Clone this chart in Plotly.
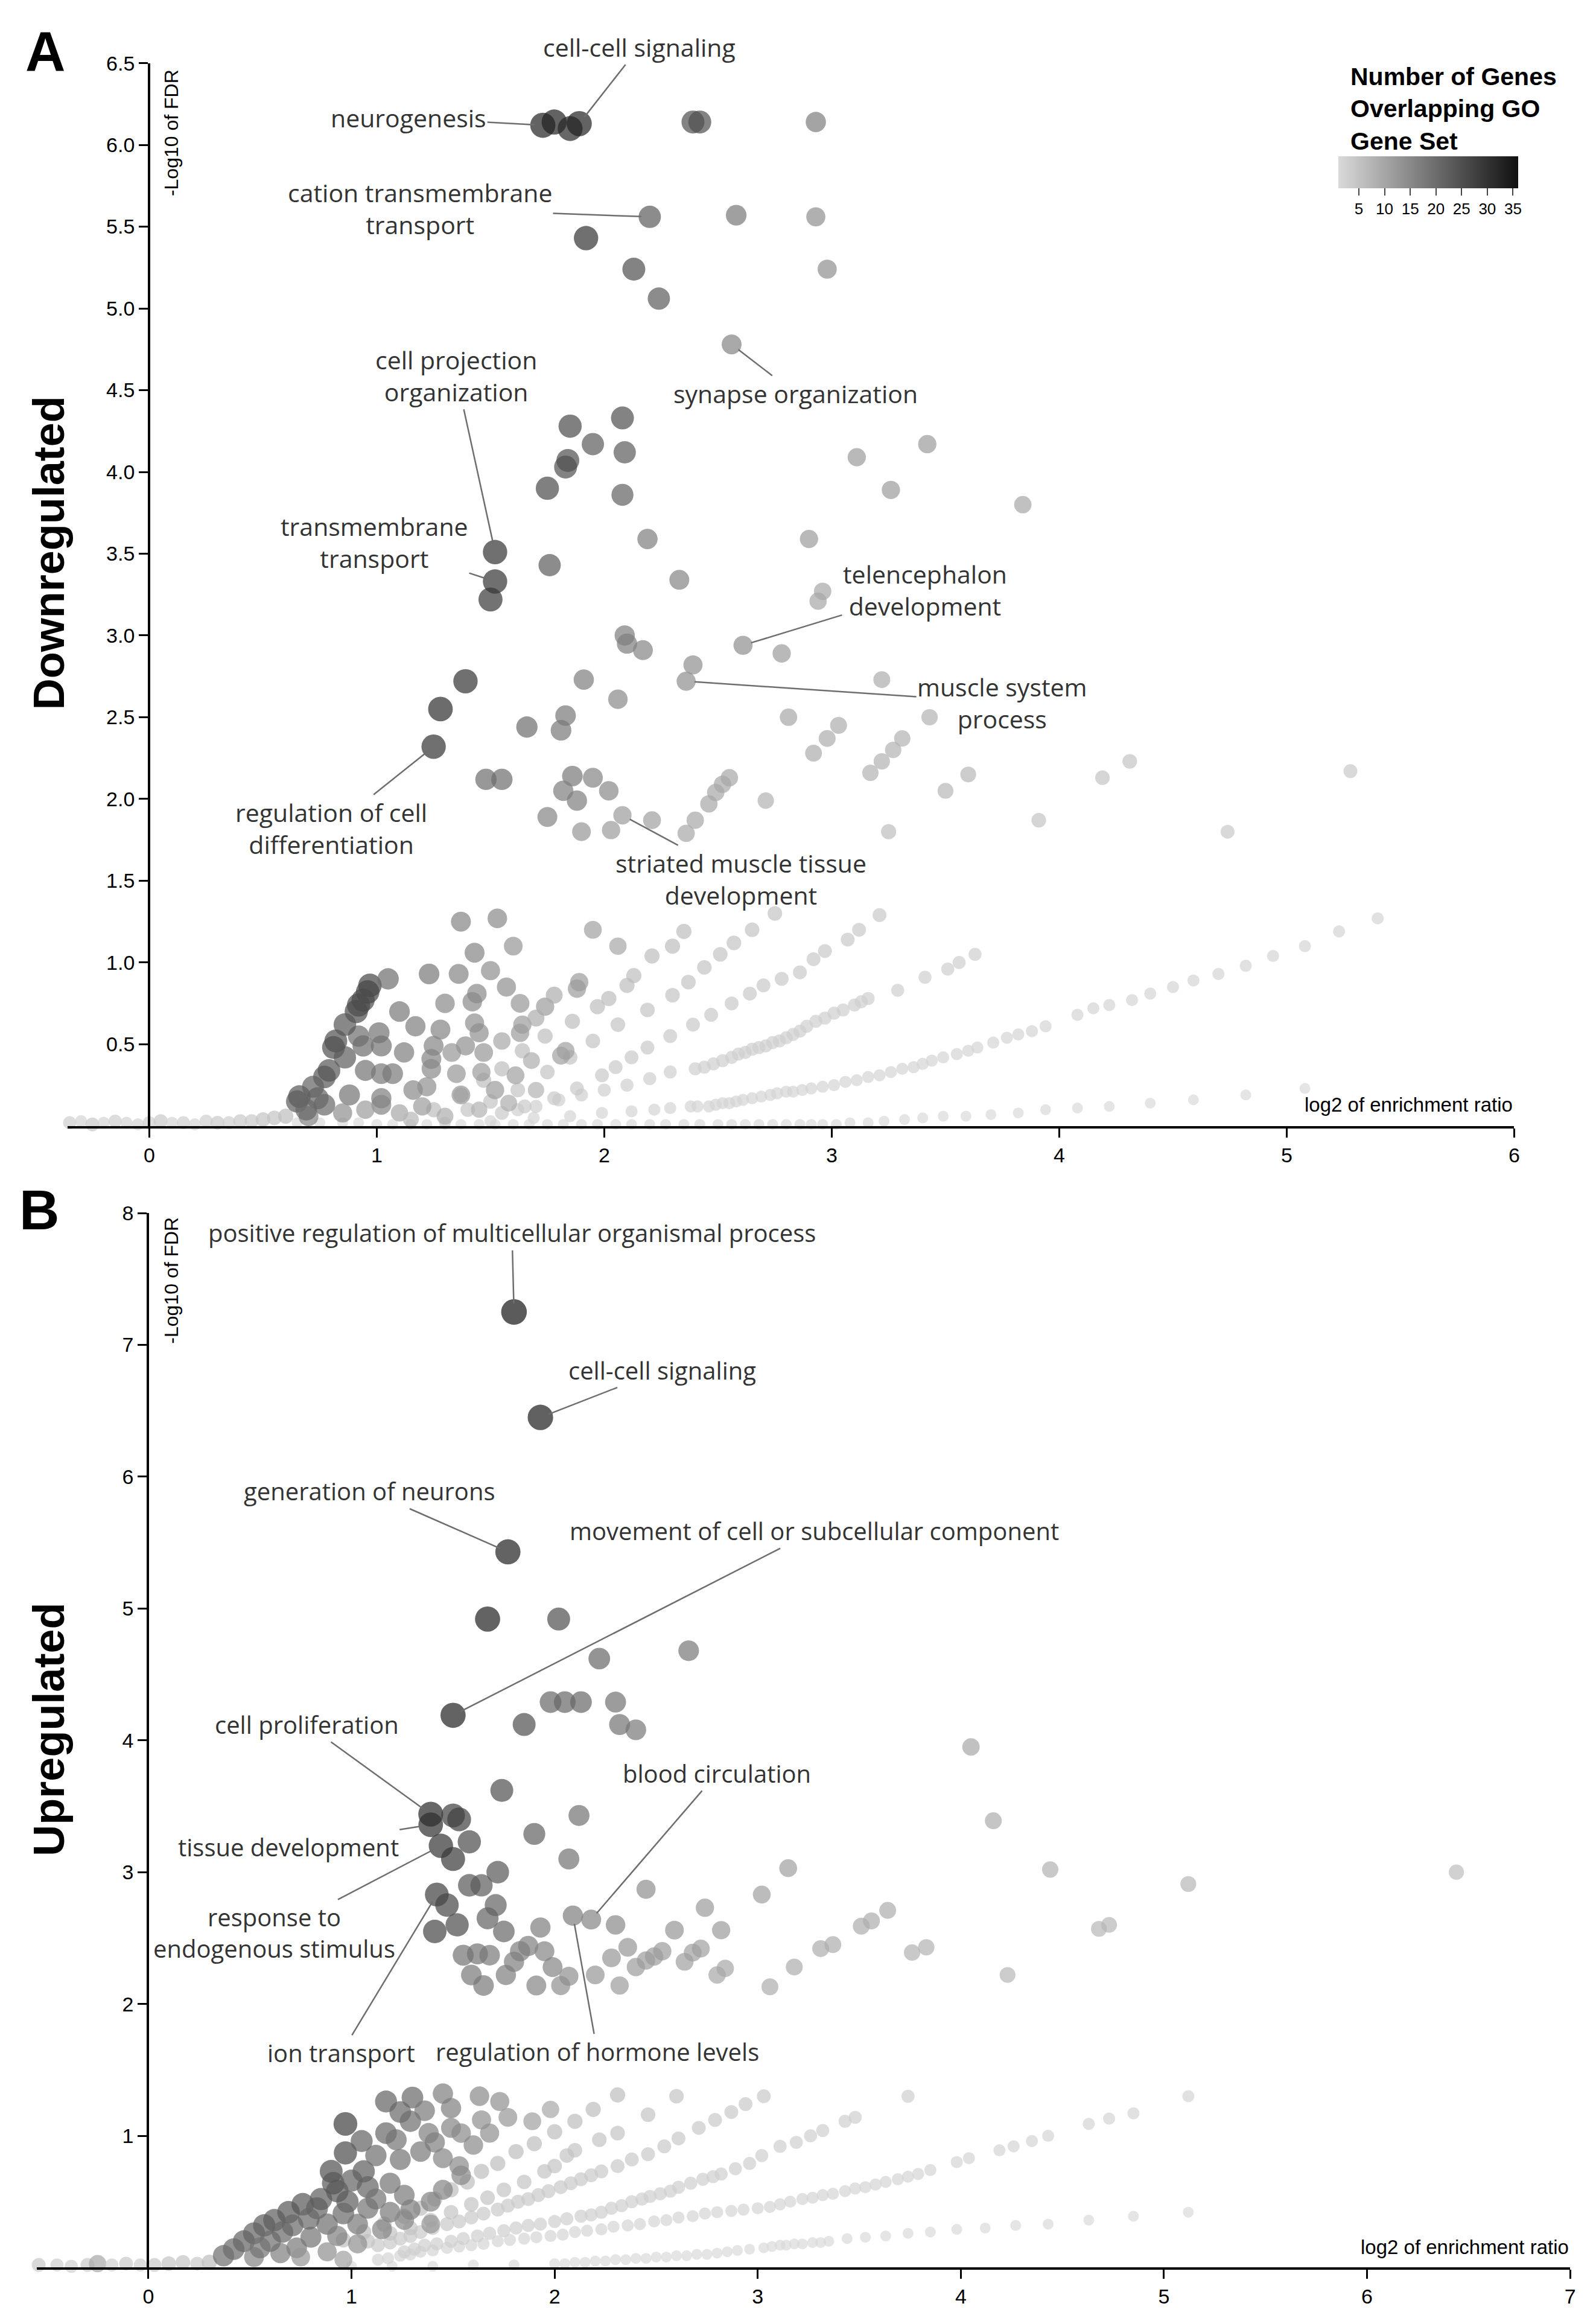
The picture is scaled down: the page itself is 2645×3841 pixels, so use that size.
import numpy as np
import plotly.graph_objects as go

# ------------------------------------------------------------------
# Panel A - downregulated genes
# x = log2 of enrichment ratio, y = -log10 FDR, n = overlapping genes
# ------------------------------------------------------------------

# sets with FDR ~ 1, piled on the x axis
down_axis_x = [-0.35, -0.30, -0.25, -0.20, -0.15, -0.10, -0.05, 0.00, 0.05, 0.10,
               0.15, 0.20, 0.25, 0.30, 0.35, 0.40, 0.45, 0.50, 0.55, 0.60,
               -0.33, -0.22, -0.12, 0.00, 0.12, 0.24, 0.36, 0.48, 0.60]
down_axis_y = [0.02, 0.03, 0.01, 0.02, 0.03, 0.02, 0.01, 0.02, 0.03, 0.02,
               0.02, 0.01, 0.03, 0.02, 0.02, 0.03, 0.03, 0.04, 0.05, 0.06,
               -0.04, -0.04, -0.04, -0.04, -0.04, -0.04, -0.04, -0.04, -0.04]
down_axis_n = [3, 2, 4, 2, 3, 2, 2, 3, 4, 2,
               3, 2, 3, 4, 3, 4, 4, 5, 5, 6,
               2, 2, 2, 2, 2, 2, 2, 2, 2]

# one overlapping gene
down_n1_x = [1.00, 1.15, 1.30, 1.45, 1.60, 1.75, 1.90, 2.05, 2.20, 2.35, 2.50, 2.62, 2.74, 2.86, 2.96, 3.02,
             3.08, 3.16, 3.23, 3.32, 3.40, 3.49, 3.59, 3.70, 3.82, 3.94, 4.08, 4.22, 4.40, 4.59, 4.82, 5.08,
             0.65, 0.75, 0.85, 0.92, 1.07, 1.22, 1.37, 1.52, 1.67, 1.82, 1.97, 2.12, 2.27, 2.42, 2.56, 2.68, 2.80, 2.91]
down_n1_y = [0.01, 0.01, 0.01, 0.01, 0.01, 0.01, 0.01, 0.01, 0.01, 0.01, 0.01, 0.01, 0.01, 0.01, 0.01, 0.01,
             0.02, 0.02, 0.03, 0.04, 0.05, 0.06, 0.06, 0.07, 0.08, 0.10, 0.11, 0.12, 0.14, 0.16, 0.19, 0.23,
             0.02, 0.02, 0.02, 0.02, 0.01, 0.01, 0.01, 0.01, 0.01, 0.01, 0.01, 0.01, 0.01, 0.01, 0.01, 0.01, 0.01, 0.01]

# two overlapping genes
down_n2_x = [1.30, 1.50, 1.69, 1.85, 1.99, 2.12, 2.22, 2.29, 2.38, 2.46, 2.52, 2.58, 2.65, 2.73,
             2.80, 2.87, 2.96, 3.06, 3.16, 3.26, 3.36, 3.44, 3.55, 3.64, 3.71, 3.77, 3.82, 3.88,
             3.94, 4.08, 4.15, 4.22, 4.32, 4.40, 4.50, 4.59, 4.70, 4.82, 4.94, 5.08, 5.23, 5.40,
             2.41, 2.49, 2.55, 2.61, 2.69, 2.76, 2.83, 2.91, 3.01, 3.11, 3.21, 3.31, 3.40, 3.49, 3.60]
down_n2_y = [0.02, 0.03, 0.05, 0.06, 0.08, 0.09, 0.10, 0.11, 0.12, 0.12, 0.14, 0.15, 0.17, 0.19,
             0.21, 0.22, 0.24, 0.27, 0.30, 0.33, 0.36, 0.40, 0.44, 0.48, 0.51, 0.54, 0.56, 0.58,
             0.61, 0.68, 0.72, 0.74, 0.77, 0.81, 0.85, 0.89, 0.93, 0.98, 1.04, 1.10, 1.19, 1.27,
             0.12, 0.13, 0.14, 0.16, 0.18, 0.20, 0.21, 0.23, 0.25, 0.28, 0.31, 0.35, 0.38, 0.42, 0.46]

# three overlapping genes
down_n3_x = [1.62, 1.70, 1.80, 1.90, 2.00, 2.10, 2.20, 2.29, 2.40, 2.48, 2.56, 2.62, 2.68,
             2.74, 2.80, 2.86, 2.93, 3.01, 3.10, 3.16, 3.29, 3.41, 3.51, 3.56, 3.63,
             2.44, 2.52, 2.59, 2.65, 2.71, 2.77, 2.83, 2.89, 2.97, 3.05, 3.13]
down_n3_y = [0.10, 0.12, 0.16, 0.19, 0.22, 0.25, 0.29, 0.33, 0.35, 0.38, 0.42, 0.45, 0.48,
             0.51, 0.54, 0.58, 0.64, 0.69, 0.74, 0.78, 0.83, 0.91, 0.96, 1.00, 1.05,
             0.36, 0.40, 0.44, 0.47, 0.49, 0.52, 0.56, 0.61, 0.66, 0.71, 0.76]

# four overlapping genes
down_n4_x = [1.55, 1.65, 1.78, 1.88, 1.99, 2.05, 2.12, 2.19, 2.29, 2.39, 2.47,
             2.56, 2.64, 2.70, 2.78, 2.86, 2.92, 2.97, 3.07, 3.12, 3.21]
down_n4_y = [0.08, 0.12, 0.17, 0.23, 0.31, 0.36, 0.42, 0.48, 0.55, 0.62, 0.68,
             0.75, 0.81, 0.86, 0.90, 0.94, 1.02, 1.07, 1.14, 1.20, 1.29]

# five overlapping genes
down_n5_x = [1.40, 1.50, 1.62, 1.75, 1.85, 1.95, 2.06, 2.19, 2.30, 2.37, 2.44, 2.51, 2.57, 2.65, 2.75]
down_n5_y = [0.10, 0.15, 0.22, 0.33, 0.42, 0.52, 0.62, 0.71, 0.80, 0.88, 0.97, 1.05, 1.12, 1.20, 1.30]

# six overlapping genes
down_n6_x = [1.25, 1.37, 1.47, 1.55, 1.64, 1.74, 1.86, 1.97, 2.02, 2.10, 2.13, 2.21, 2.30, 2.35]
down_n6_y = [0.10, 0.19, 0.28, 0.35, 0.46, 0.55, 0.64, 0.73, 0.78, 0.86, 0.92, 1.04, 1.10, 1.19]

# remaining non-significant sets
down_low_x = [1.37, 1.53, 1.43, 1.23, 1.36, 1.95, 2.06, 1.89, 1.88, 1.57,
              1.74, 1.63, 1.64, 1.63, 1.44, 1.42, 1.43, 1.45, 1.39, 1.47,
              1.81, 1.83, 0.97, 0.96, 0.94, 0.92, 0.91, 0.82, 0.81, 0.79,
              0.77, 0.66, 0.65, 0.74, 0.77, 0.92, 0.94, 1.01, 1.02, 0.95,
              1.02, 1.07, 0.88, 1.02, 1.02, 1.17, 1.28, 1.25, 1.24, 1.24,
              1.16, 1.22, 1.35, 1.37, 1.46, 1.52, 1.61, 0.85, 0.95, 1.10,
              1.20, 1.30, 0.70, 1.45, 1.15, 1.55, 1.70, 1.78, 1.68, 1.58,
              1.70, 1.33, 1.12, 1.10, 1.05, 0.86, 0.86, 0.72, 0.69, 1.30,
              1.50, 1.60]
down_low_y = [1.25, 1.27, 1.06, 0.93, 0.93, 1.20, 1.10, 0.88, 0.84, 0.85,
              0.73, 0.75, 0.62, 0.57, 0.81, 0.76, 0.63, 0.57, 0.49, 0.45,
              0.43, 0.46, 0.86, 0.82, 0.77, 0.74, 0.70, 0.52, 0.48, 0.34,
              0.30, 0.18, 0.15, 0.17, 0.13, 0.55, 0.49, 0.57, 0.49, 0.34,
              0.32, 0.32, 0.19, 0.17, 0.13, 0.61, 0.59, 0.49, 0.41, 0.35,
              0.22, 0.24, 0.32, 0.19, 0.33, 0.22, 0.31, 0.08, 0.10, 0.08,
              0.12, 0.06, 0.06, 0.10, 0.04, 0.52, 0.66, 0.80, 0.40, 0.14,
              0.22, 0.45, 0.45, 0.70, 0.90, 0.62, 0.42, 0.24, 0.10, 0.75,
              0.95, 1.10]
down_low_n = [16, 15, 16, 18, 16, 11, 10, 12, 12, 14,
              12, 13, 12, 12, 15, 15, 14, 14, 14, 13,
              11, 11, 27, 27, 26, 26, 26, 25, 25, 24,
              24, 24, 23, 22, 21, 20, 20, 19, 19, 19,
              18, 18, 19, 17, 16, 17, 16, 16, 16, 15,
              15, 14, 13, 13, 12, 12, 11, 14, 12, 10,
              12, 9, 16, 8, 7, 10, 9, 9, 9, 9,
              8, 13, 17, 18, 20, 24, 23, 22, 21, 15,
              14, 13]

# significant sets (FDR < 0.05)
down_sig_x = [1.73, 1.78, 1.85, 1.89, 2.39, 2.42, 2.93, 2.20, 2.58, 2.93,
              1.92, 2.13, 2.24, 2.98, 2.56, 1.85, 2.08, 1.95, 2.09, 1.84,
              1.83, 1.75, 2.08, 3.11, 3.42, 3.26, 3.84, 1.52, 1.52, 1.50,
              1.76, 2.19, 2.33, 2.90, 2.94, 2.96, 2.61, 2.78, 2.09, 2.10,
              2.17, 2.39, 2.36, 1.91, 2.06, 1.39, 1.28, 1.25, 1.66, 1.83,
              1.81, 2.81, 3.03, 2.98, 2.92, 3.22, 3.43, 3.31, 3.27, 3.22,
              3.17, 3.60, 3.50, 4.31, 4.19, 5.28, 3.91, 3.25, 4.74, 1.48,
              1.55, 1.86, 1.95, 1.82, 2.02, 1.88, 1.75, 2.08, 2.21, 1.90,
              2.03, 2.36, 2.40, 2.46, 2.49, 2.52, 2.55, 2.71]
down_sig_y = [6.12, 6.14, 6.10, 6.13, 6.14, 6.14, 6.14, 5.56, 5.57, 5.56,
              5.43, 5.24, 5.06, 5.24, 4.78, 4.28, 4.33, 4.17, 4.12, 4.07,
              4.03, 3.90, 3.86, 4.09, 4.17, 3.89, 3.80, 3.51, 3.33, 3.22,
              3.43, 3.59, 3.34, 3.59, 3.21, 3.27, 2.94, 2.89, 3.00, 2.95,
              2.91, 2.82, 2.72, 2.73, 2.61, 2.72, 2.55, 2.32, 2.44, 2.51,
              2.42, 2.50, 2.45, 2.37, 2.28, 2.73, 2.50, 2.37, 2.30, 2.23,
              2.16, 2.15, 2.05, 2.23, 2.13, 2.17, 1.87, 1.80, 1.80, 2.12,
              2.12, 2.14, 2.13, 2.05, 2.05, 1.99, 1.89, 1.90, 1.87, 1.80,
              1.81, 1.79, 1.87, 1.97, 2.04, 2.09, 2.13, 1.99]
down_sig_n = [33, 33, 32, 33, 25, 25, 17, 23, 18, 14,
              30, 25, 23, 14, 16, 26, 25, 23, 23, 25,
              25, 26, 22, 12, 12, 12, 10, 30, 30, 29,
              23, 17, 16, 12, 10, 10, 14, 12, 17, 17,
              16, 14, 14, 17, 15, 30, 31, 30, 20, 18,
              18, 10, 9, 9, 9, 9, 8, 8, 8, 8,
              8, 7, 7, 5, 5, 4, 5, 6, 4, 20,
              20, 18, 16, 17, 15, 17, 16, 12, 11, 13,
              12, 10, 10, 10, 10, 10, 10, 8]

down_labels = ["cell-cell signaling", "neurogenesis", "cation transmembrane<br>transport",
               "cell projection<br>organization", "transmembrane<br>transport",
               "synapse organization", "telencephalon<br>development", "muscle system<br>process",
               "regulation of cell<br>differentiation", "striated muscle tissue<br>development"]
down_label_x = [1.89, 1.73, 2.20, 1.52, 1.52, 2.56, 2.61, 2.36, 1.25, 2.08]
down_label_y = [6.13, 6.12, 5.56, 3.51, 3.33, 4.78, 2.94, 2.72, 2.32, 1.90]

# ------------------------------------------------------------------
# Panel B - upregulated genes
# ------------------------------------------------------------------
up_axis_x = [-0.54, -0.45, -0.38, -0.30, -0.25, -0.18, -0.11, -0.04, 0.03, 0.10, 0.17,
             0.24, 0.30, -0.40, -0.20, 0.00, 0.15, 0.30, 0.45, 0.60, 0.75, 0.90]
up_axis_y = [0.02, 0.02, 0.01, 0.02, 0.03, 0.02, 0.03, 0.02, 0.02, 0.03, 0.04,
             0.03, 0.04, -0.04, -0.04, -0.04, -0.04, -0.04, -0.05, -0.05, -0.05, -0.04]
up_axis_n = [4, 3, 3, 4, 10, 3, 4, 3, 4, 5, 5,
             4, 6, 2, 2, 2, 2, 2, 2, 2, 2, 2]

up_n1_x = [1.00, 1.20, 1.40, 1.60, 1.80, 2.00, 2.10, 2.20, 2.30, 2.40, 2.50, 2.60, 2.70, 2.80, 2.90, 3.03,
           3.11, 3.18, 3.27, 3.35, 3.44, 3.53, 3.63, 3.74, 3.85, 3.98, 4.12, 4.27, 4.43, 4.63, 4.85, 5.12,
           2.05, 2.15, 2.25, 2.35, 2.45, 2.55, 2.65, 2.75, 2.85, 2.96, 3.07, 3.14, 3.22, 3.31]
up_n1_y = [0.01, 0.01, 0.01, 0.02, 0.02, 0.03, 0.04, 0.05, 0.06, 0.07, 0.08, 0.09, 0.10, 0.11, 0.13, 0.15,
           0.17, 0.18, 0.19, 0.20, 0.22, 0.23, 0.24, 0.26, 0.27, 0.29, 0.30, 0.32, 0.33, 0.36, 0.39, 0.42,
           0.03, 0.04, 0.05, 0.06, 0.07, 0.08, 0.09, 0.10, 0.12, 0.14, 0.16, 0.17, 0.18, 0.19]

up_n2_x = [1.13, 1.24, 1.34, 1.47, 1.59, 1.72, 1.85, 1.98, 2.10, 2.23, 2.36, 2.49, 2.61, 2.74,
           2.87, 3.00, 3.06, 3.11, 3.16, 3.22, 3.27, 3.32, 3.37, 3.43, 3.48, 3.53, 3.58, 3.63,
           3.69, 3.74, 3.79, 3.85, 3.98, 4.04, 4.19, 4.26, 4.35, 4.43, 4.63, 4.73, 4.85, 5.12,
           1.18, 1.29, 1.40, 1.53, 1.65, 1.78, 1.91, 2.04, 2.16, 2.29, 2.42, 2.55, 2.68, 2.80, 2.93]
up_n2_y = [0.06, 0.09, 0.12, 0.15, 0.17, 0.20, 0.22, 0.24, 0.27, 0.29, 0.32, 0.35, 0.38, 0.41,
           0.43, 0.45, 0.46, 0.48, 0.50, 0.52, 0.53, 0.55, 0.56, 0.58, 0.60, 0.61, 0.63, 0.65,
           0.67, 0.69, 0.71, 0.74, 0.80, 0.83, 0.89, 0.92, 0.96, 1.00, 1.09, 1.13, 1.17, 1.30,
           0.07, 0.10, 0.13, 0.16, 0.18, 0.21, 0.23, 0.25, 0.28, 0.31, 0.33, 0.36, 0.39, 0.42, 0.44]

up_n3_x = [1.26, 1.36, 1.49, 1.62, 1.75, 1.87, 2.00, 2.13, 2.23, 2.33, 2.43, 2.52,
           2.61, 2.73, 2.82, 2.96, 3.02, 3.11, 3.19, 3.26, 3.32, 3.43, 3.48, 3.74,
           1.31, 1.42, 1.55, 1.68, 1.81, 1.93, 2.06, 2.18, 2.28, 2.38, 2.47, 2.57, 2.67, 2.78, 2.89]
up_n3_y = [0.12, 0.17, 0.20, 0.24, 0.28, 0.32, 0.35, 0.39, 0.42, 0.47, 0.52, 0.56,
           0.61, 0.67, 0.71, 0.79, 0.85, 0.92, 0.95, 1.00, 1.04, 1.11, 1.14, 1.30,
           0.14, 0.18, 0.22, 0.26, 0.30, 0.33, 0.37, 0.40, 0.45, 0.50, 0.54, 0.58, 0.64, 0.69, 0.75]

up_n4_x = [1.13, 1.24, 1.34, 1.47, 1.59, 1.72, 1.82, 1.92, 2.03, 2.13, 2.23,
           2.31, 2.38, 2.46, 2.54, 2.61, 2.71, 2.79, 2.87, 2.94, 3.03,
           1.19, 1.29, 1.40, 1.53, 1.65, 1.77, 1.87, 1.97, 2.08, 2.18]
up_n4_y = [0.17, 0.22, 0.27, 0.33, 0.38, 0.44, 0.50, 0.55, 0.61, 0.67, 0.73,
           0.77, 0.82, 0.86, 0.92, 0.98, 1.06, 1.12, 1.18, 1.24, 1.30,
           0.19, 0.24, 0.30, 0.35, 0.41, 0.47, 0.52, 0.58, 0.64, 0.70]

up_n5_x = [1.08, 1.19, 1.29, 1.39, 1.49, 1.59, 1.67, 1.75, 1.85, 1.95, 2.00, 2.06, 2.10, 2.22, 2.31, 2.46, 2.60]
up_n5_y = [0.20, 0.26, 0.30, 0.36, 0.42, 0.48, 0.53, 0.59, 0.65, 0.73, 0.77, 0.85, 0.89, 0.97, 1.02, 1.16, 1.30]

up_n6_x = [0.96, 1.06, 1.16, 1.26, 1.34, 1.41, 1.49, 1.57, 1.64, 1.72, 1.81, 1.90, 2.00, 2.10, 2.19, 2.31]
up_n6_y = [0.21, 0.27, 0.33, 0.39, 0.45, 0.52, 0.59, 0.65, 0.73, 0.79, 0.88, 0.94, 1.03, 1.11, 1.20, 1.31]

up_low_x = [0.97, 0.97, 0.90, 1.06, 1.08, 0.93, 0.98, 1.17, 1.30, 1.24,
            1.29, 1.17, 1.45, 1.49, 1.63, 1.73, 1.77, 1.64, 1.49, 1.54,
            1.41, 1.34, 1.24, 1.45, 1.53, 1.54, 1.45, 1.39, 1.26, 1.19,
            1.12, 1.98, 1.89, 0.76, 0.69, 0.62, 0.57, 0.52, 0.47, 0.42,
            0.37, 0.71, 0.83, 0.88, 0.80, 0.73, 0.65, 0.96, 1.03, 0.93,
            1.08, 1.19, 1.29, 1.15, 1.26, 1.39, 1.03, 0.88, 0.75, 0.52,
            0.96, 0.60, 0.55, 0.66, 0.79, 0.85, 0.91, 1.00, 1.12, 1.05,
            1.22, 1.36, 1.38, 1.60, 1.68]
up_low_y = [1.09, 0.87, 0.73, 0.73, 0.61, 0.58, 0.50, 1.26, 1.29, 1.18,
            1.11, 1.02, 1.32, 1.21, 1.30, 1.26, 1.14, 1.12, 1.06, 1.02,
            0.95, 0.88, 0.82, 0.83, 0.77, 0.70, 0.59, 0.50, 0.55, 0.64,
            0.52, 1.20, 1.11, 0.48, 0.42, 0.36, 0.32, 0.26, 0.20, 0.14,
            0.09, 0.32, 0.45, 0.33, 0.23, 0.15, 0.11, 0.41, 0.33, 0.24,
            0.45, 0.42, 0.44, 0.29, 0.36, 0.33, 0.18, 0.12, 0.08, 0.08,
            0.06, 0.20, 0.15, 0.27, 0.37, 0.52, 0.64, 0.66, 0.85, 0.96,
            0.97, 1.19, 1.02, 0.93, 1.02]
up_low_n = [28, 26, 25, 23, 22, 24, 23, 22, 21, 21,
            20, 21, 17, 17, 15, 14, 13, 14, 16, 15,
            17, 18, 19, 16, 15, 15, 16, 16, 18, 19,
            19, 10, 11, 24, 24, 23, 23, 22, 22, 21,
            20, 21, 22, 20, 19, 18, 17, 21, 18, 17,
            19, 18, 17, 16, 15, 13, 14, 14, 13, 16,
            11, 20, 19, 21, 21, 23, 24, 22, 20, 22,
            19, 18, 17, 15, 14]

up_sig_x = [1.80, 1.93, 1.77, 1.67, 2.02, 2.22, 2.66, 1.50, 1.85, 1.98,
            2.05, 2.13, 2.30, 2.32, 2.40, 1.74, 1.39, 1.39, 1.50, 1.53,
            1.58, 1.44, 1.50, 1.90, 2.12, 2.07, 1.72, 1.58, 1.64, 1.42,
            1.47, 1.52, 1.41, 1.71, 1.67, 1.75, 1.93, 2.09, 2.18, 2.30,
            2.45, 2.74, 2.59, 2.82, 3.02, 3.15, 1.55, 1.62, 1.68, 1.59,
            1.65, 1.76, 1.80, 1.83, 1.87, 1.95, 1.99, 1.91, 2.03, 2.07,
            2.20, 2.28, 2.36, 2.32, 2.40, 2.45, 2.49, 2.53, 2.64, 2.68,
            2.72, 2.80, 2.84, 3.06, 3.18, 3.31, 3.37, 3.51, 3.56, 3.64,
            3.76, 3.83, 4.23, 4.68, 4.73, 4.05, 4.16, 4.44, 5.12, 6.44]
up_sig_y = [7.25, 6.45, 5.43, 4.92, 4.92, 4.62, 4.68, 4.19, 4.12, 4.29,
            4.29, 4.29, 4.29, 4.12, 4.08, 3.62, 3.44, 3.36, 3.43, 3.40,
            3.23, 3.20, 3.10, 3.29, 3.43, 3.10, 3.00, 2.90, 2.90, 2.83,
            2.75, 2.60, 2.55, 2.75, 2.65, 2.55, 2.58, 2.67, 2.64, 2.60,
            2.87, 2.73, 2.56, 2.56, 2.83, 3.03, 2.37, 2.38, 2.37, 2.22,
            2.14, 2.22, 2.32, 2.40, 2.44, 2.40, 2.28, 2.14, 2.14, 2.21,
            2.22, 2.35, 2.43, 2.14, 2.28, 2.33, 2.36, 2.40, 2.32, 2.39,
            2.42, 2.22, 2.27, 2.13, 2.28, 2.42, 2.45, 2.59, 2.63, 2.71,
            2.39, 2.43, 2.22, 2.57, 2.60, 3.95, 3.39, 3.02, 2.91, 3.00]
up_sig_n = [35, 34, 33, 33, 25, 21, 18, 33, 25, 21,
            21, 21, 19, 19, 18, 25, 32, 31, 28, 28,
            26, 30, 29, 22, 19, 19, 24, 24, 23, 28,
            27, 26, 27, 22, 22, 21, 17, 17, 16, 15,
            14, 12, 13, 12, 11, 11, 19, 19, 18, 18,
            18, 17, 17, 17, 17, 16, 16, 16, 14, 14,
            13, 13, 13, 12, 12, 12, 12, 12, 11, 11,
            11, 10, 10, 9, 9, 9, 9, 9, 9, 9,
            8, 8, 7, 7, 7, 10, 9, 8, 7, 6]

up_labels = ["positive regulation of multicellular organismal process", "cell-cell signaling",
             "generation of neurons", "movement of cell or subcellular component",
             "cell proliferation", "blood circulation", "tissue development",
             "response to<br>endogenous stimulus", "ion transport", "regulation of hormone levels"]
up_label_x = [1.80, 1.93, 1.77, 1.50, 1.39, 2.18, 1.39, 1.44, 1.42, 2.09]
up_label_y = [7.25, 6.45, 5.43, 4.19, 3.44, 2.64, 3.36, 3.20, 2.83, 2.67]

color_ticks = [5, 10, 15, 20, 25, 30, 35]

# where each label text sits (data coords), kept apart from the values above
down_text_pos = [(2.155, 6.60), (1.14, 6.165), (1.19, 5.61), (1.35, 4.59), (0.99, 3.57),
                 (2.84, 4.48), (3.41, 3.28), (3.75, 2.59), (0.80, 1.82), (2.60, 1.51)]
up_text_pos = [(1.79, 7.85), (2.53, 6.81), (1.09, 5.89), (3.28, 5.59), (0.78, 4.12),
               (2.80, 3.75), (0.69, 3.19), (0.62, 2.54), (0.95, 1.63), (2.21, 1.64)]


def gather(groups):
    xs, ys, ns = [], [], []
    for gx, gy, gn in groups:
        if not isinstance(gn, list):
            gn = [gn] * len(gx)
        assert len(gx) == len(gy) == len(gn)
        xs += gx
        ys += gy
        ns += gn
    return xs, ys, ns


dx, dy, dn = gather([(down_axis_x, down_axis_y, down_axis_n), (down_n1_x, down_n1_y, 1),
                     (down_n2_x, down_n2_y, 2), (down_n3_x, down_n3_y, 3), (down_n4_x, down_n4_y, 4),
                     (down_n5_x, down_n5_y, 5), (down_n6_x, down_n6_y, 6),
                     (down_low_x, down_low_y, down_low_n), (down_sig_x, down_sig_y, down_sig_n)])
ux, uy, un = gather([(up_axis_x, up_axis_y, up_axis_n), (up_n1_x, up_n1_y, 1),
                     (up_n2_x, up_n2_y, 2), (up_n3_x, up_n3_y, 3), (up_n4_x, up_n4_y, 4),
                     (up_n5_x, up_n5_y, 5), (up_n6_x, up_n6_y, 6),
                     (up_low_x, up_low_y, up_low_n), (up_sig_x, up_sig_y, up_sig_n)])

W, H = 2645, 3841
TICK_FONT = dict(family="Liberation Sans, Arial", size=34, color="black")


def msize(n):
    return 13 + 5 * np.sqrt(np.array(n, dtype=float))


fig = go.Figure()
fig.add_trace(go.Scatter(x=dx, y=dy, mode="markers", xaxis="x", yaxis="y", cliponaxis=False,
                         marker=dict(size=msize(dn), color=dn, coloraxis="coloraxis", line_width=0),
                         showlegend=False))
fig.add_trace(go.Scatter(x=ux, y=uy, mode="markers", xaxis="x2", yaxis="y2", cliponaxis=False,
                         marker=dict(size=msize(un), color=un, coloraxis="coloraxis", line_width=0),
                         showlegend=False))

axis_common = dict(showline=True, linecolor="black", linewidth=4, ticks="outside", ticklen=15,
                   tickwidth=3, tickcolor="black", showgrid=False, zeroline=False, tickfont=TICK_FONT)

fig.update_layout(
    width=W, height=H, plot_bgcolor="white", paper_bgcolor="white",
    margin=dict(l=0, r=0, t=0, b=0),
    xaxis=dict(domain=[104 / W, 2510 / W], range=[-0.36, 6.0], anchor="y",
               tickvals=[0, 1, 2, 3, 4, 5, 6], **axis_common),
    yaxis=dict(domain=[1 - 1848 / H, 1 - 78 / H], range=[0, 6.5], anchor="free", position=240 / W,
               tickvals=[0.5, 1, 1.5, 2, 2.5, 3, 3.5, 4, 4.5, 5, 5.5, 6, 6.5], tickformat=".1f",
               **axis_common),
    xaxis2=dict(domain=[53 / W, 2603 / W], range=[-0.55, 7.0], anchor="y2",
                tickvals=[0, 1, 2, 3, 4, 5, 6, 7], **axis_common),
    yaxis2=dict(domain=[1 - 3749 / H, 1 - 1993 / H], range=[0, 8], anchor="free", position=238 / W,
                tickvals=[1, 2, 3, 4, 5, 6, 7, 8], **axis_common),
    coloraxis=dict(
        cmin=1, cmax=36,
        colorscale=[[0, "#dadada"], [1, "#101010"]],
        colorbar=dict(orientation="h", x=2367 / W, xanchor="center", y=1 - 223 / H, yanchor="top",
                      len=318, lenmode="pixels", thickness=53, outlinewidth=0,
                      ticks="outside", ticklen=12, tickwidth=2, tickvals=color_ticks,
                      tickfont=dict(family="Liberation Sans, Arial", size=26, color="black")),
    ),
)

annotations = []
for ref, labels, lx, ly, pos, fsize in [("", down_labels, down_label_x, down_label_y, down_text_pos, 41),
                                        ("2", up_labels, up_label_x, up_label_y, up_text_pos, 40)]:
    for text, px, py, (tx, ty) in zip(labels, lx, ly, pos):
        annotations.append(dict(
            x=px, y=py, xref="x" + ref, yref="y" + ref, ax=tx, ay=ty, axref="x" + ref, ayref="y" + ref,
            text=text, showarrow=True, arrowhead=0, arrowwidth=2.5, arrowcolor="#6e6e6e",
            standoff=14, font=dict(family="Open Sans", size=fsize, color="#333333"), align="center"))

# axis titles, panel letters and side labels (explicit anchors so paper positions are centres)
centre = dict(xref="paper", yref="paper", showarrow=False, xanchor="center", yanchor="middle")
for yc in [1 - 194 / H, 1 - 2105 / H]:
    annotations.append(dict(x=277 / W, y=yc, text="-Log10 of FDR", textangle=-90,
                            font=dict(family="Liberation Sans, Arial", size=32, color="black"), **centre))
for xr, yc in [(2510 / W, 1 - 1812 / H), (2603 / W, 1 - 3715 / H)]:
    annotations.append(dict(x=xr, y=yc, xref="paper", yref="paper", text="log2 of enrichment ratio",
                            xanchor="right", yanchor="middle", showarrow=False,
                            font=dict(family="Liberation Sans, Arial", size=33, color="black")))
for letter, xc, yc in [("A", 67 / W, 1 - 58 / H), ("B", 57 / W, 1 - 1988 / H)]:
    annotations.append(dict(x=xc, y=yc, text="<b>%s</b>" % letter,
                            font=dict(family="Liberation Sans, Arial", size=92, color="black"), **centre))
for side, yc in [("Downregulated", 1 - 894 / H), ("Upregulated", 1 - 2853 / H)]:
    annotations.append(dict(x=73 / W, y=yc, text="<b>%s</b>" % side, textangle=-90,
                            font=dict(family="Liberation Sans, Arial", size=72, color="black"), **centre))
annotations.append(dict(x=2236 / W, y=1 - 75 / H, xref="paper", yref="paper", xanchor="left", yanchor="top",
                        align="left", showarrow=False,
                        text="<b>Number of Genes<br>Overlapping GO<br>Gene Set</b>",
                        font=dict(family="Liberation Sans, Arial", size=41, color="black")))

fig.update_layout(annotations=annotations)
fig.write_html("out.html")
